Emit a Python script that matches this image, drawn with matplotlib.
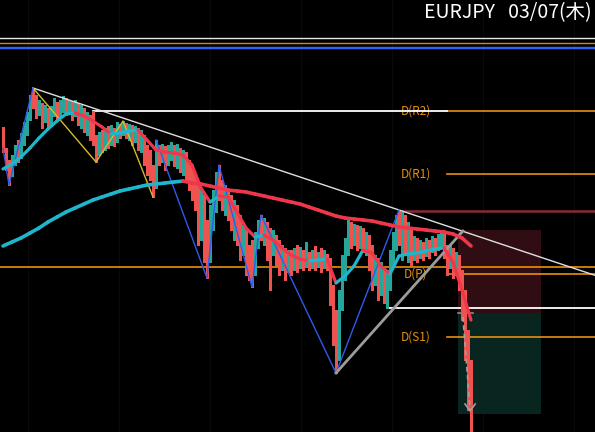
import numpy as np
import matplotlib
matplotlib.use("Agg")
import matplotlib.pyplot as plt
from matplotlib.collections import LineCollection
from matplotlib.patches import Rectangle

# ---------------- data ----------------
opens = [162.70,162.50,162.37,162.27,162.38,162.57,162.45,162.58,162.68,162.83,
         163.02,163.02,162.87,162.94,162.81,162.90,162.77,162.86,162.96,162.84,
         162.90,163.00,162.88,162.97,162.86,162.94,162.76,162.90,162.69,162.82,
         162.78,162.63,162.48,162.67,162.53,162.71,162.57,162.70,162.61,162.75,
         162.67,162.75,162.63,162.73,162.61,162.70,162.52,162.63,162.53,162.47,
         162.33,162.15,162.53,162.40,162.52,162.38,162.42,162.53,162.36,162.50,
         162.30,162.46,162.38,162.32,162.23,162.12,161.65,162.02,161.77,161.45,
         161.74,161.92,162.30,162.17,161.88,162.08,162.03,161.65,161.93,161.82,
         161.48,161.67,161.53,161.57,161.30,161.55,161.82,161.58,161.76,161.70,
         161.48,161.63,161.58,161.34,161.50,161.31,161.48,161.32,161.53,161.34,
         161.49,161.36,161.47,161.34,161.52,161.36,161.50,161.34,161.45,161.40,
         161.12,160.88,160.45,160.95,161.24,161.48,161.76,161.57,161.73,161.54,
         161.70,161.48,161.63,161.53,161.18,161.40,161.08,161.30,160.97,161.14,
         161.38,161.54,161.87,161.45,161.83,161.42,161.70,161.43,161.60,161.44,
         161.57,161.46,161.59,161.49,161.61,161.51,161.54,161.66,161.54,161.35,
         161.50,161.28,161.43,161.28,161.08,160.67,160.37]
closes = [162.50,162.35,162.28,162.40,162.50,162.45,162.62,162.70,162.82,163.00,
          162.95,162.88,162.95,162.82,162.90,162.78,162.88,162.96,162.85,162.92,
          162.98,162.90,162.96,162.88,162.94,162.82,162.90,162.76,162.82,162.70,
          162.62,162.50,162.60,162.55,162.65,162.60,162.68,162.62,162.72,162.70,
          162.75,162.68,162.72,162.65,162.70,162.60,162.64,162.50,162.40,162.30,
          162.15,162.48,162.42,162.50,162.40,162.48,162.52,162.42,162.50,162.38,
          162.45,162.32,162.25,162.15,162.10,161.85,162.00,161.65,161.50,161.85,
          162.00,162.20,162.10,162.00,162.05,161.95,161.85,161.90,161.75,161.60,
          161.65,161.45,161.35,161.30,161.60,161.72,161.68,161.75,161.62,161.55,
          161.62,161.50,161.42,161.50,161.38,161.45,161.35,161.42,161.38,161.45,
          161.38,161.44,161.36,161.42,161.38,161.44,161.36,161.42,161.38,161.10,
          160.80,160.60,161.00,161.30,161.55,161.75,161.62,161.70,161.60,161.68,
          161.58,161.62,161.45,161.30,161.38,161.20,161.30,161.10,161.20,161.45,
          161.60,161.80,161.70,161.82,161.60,161.70,161.52,161.58,161.48,161.55,
          161.50,161.56,161.50,161.58,161.54,161.62,161.65,161.52,161.45,161.50,
          161.38,161.42,161.25,161.00,160.60,160.20,159.80]
highs = [162.73,162.52,162.40,162.45,162.55,162.60,162.67,162.78,162.88,163.05,
         163.12,163.05,163.00,162.97,162.95,162.92,162.94,163.02,162.98,163.00,
         163.04,163.02,163.00,162.99,163.00,162.97,162.95,162.92,162.88,162.85,
         162.89,162.65,162.68,162.70,162.72,162.74,162.75,162.72,162.78,162.76,
         162.79,162.77,162.76,162.75,162.74,162.72,162.70,162.65,162.55,162.50,
         162.35,162.60,162.55,162.56,162.54,162.55,162.58,162.55,162.56,162.52,
         162.50,162.48,162.40,162.35,162.25,162.15,162.10,162.05,161.80,161.95,
         162.10,162.28,162.35,162.20,162.15,162.10,162.05,162.00,161.95,161.85,
         161.75,161.70,161.55,161.60,161.68,161.80,161.85,161.82,161.78,161.72,
         161.70,161.65,161.60,161.55,161.52,161.50,161.50,161.52,161.55,161.53,
         161.50,161.58,161.48,161.50,161.54,161.48,161.52,161.50,161.46,161.42,
         161.15,160.90,161.10,161.45,161.62,161.80,161.78,161.76,161.75,161.74,
         161.72,161.68,161.65,161.55,161.45,161.42,161.38,161.32,161.30,161.50,
         161.68,161.85,161.90,161.88,161.85,161.78,161.72,161.64,161.62,161.60,
         161.58,161.62,161.60,161.64,161.62,161.66,161.68,161.68,161.55,161.55,
         161.52,161.48,161.45,161.30,161.10,160.70,160.40]
lows = [162.48,162.30,162.15,162.24,162.35,162.38,162.42,162.55,162.65,162.80,
        162.92,162.82,162.85,162.72,162.78,162.72,162.74,162.84,162.80,162.82,
        162.88,162.85,162.86,162.80,162.84,162.75,162.72,162.68,162.65,162.60,
        162.55,162.38,162.45,162.48,162.50,162.52,162.55,162.54,162.58,162.62,
        162.65,162.62,162.60,162.55,162.58,162.50,162.48,162.35,162.25,162.20,
        162.03,162.12,162.35,162.38,162.30,162.35,162.40,162.34,162.32,162.28,
        162.25,162.20,162.10,162.00,161.90,161.55,161.60,161.38,161.22,161.38,
        161.70,161.88,162.00,161.90,161.85,161.80,161.70,161.60,161.55,161.40,
        161.45,161.25,161.20,161.13,161.25,161.52,161.60,161.55,161.40,161.10,
        161.45,161.35,161.25,161.30,161.20,161.28,161.25,161.30,161.28,161.32,
        161.30,161.34,161.30,161.32,161.30,161.34,161.28,161.32,161.30,160.95,
        160.55,160.27,160.40,160.90,161.20,161.45,161.52,161.55,161.50,161.52,
        161.48,161.45,161.30,161.10,161.15,161.00,161.05,160.97,160.92,161.10,
        161.35,161.50,161.55,161.40,161.45,161.38,161.35,161.40,161.38,161.42,
        161.40,161.44,161.42,161.48,161.45,161.50,161.52,161.42,161.25,161.32,
        161.22,161.25,161.10,160.80,160.40,159.90,159.60]

# moving averages sampled every 3rd candle
ma_idx = list(range(0, 157, 3))
ma_fast = [162.31,162.36,162.43,162.52,162.62,162.71,162.79,162.86,162.87,162.84,
           162.79,162.73,162.66,162.67,162.69,162.70,162.60,162.50,162.48,162.47,
           162.45,162.35,162.12,161.98,162.04,162.03,161.88,161.72,161.63,161.65,
           161.60,161.52,161.45,161.41,161.39,161.40,161.41,161.17,161.24,161.34,
           161.50,161.47,161.34,161.26,161.44,161.46,161.47,161.49,161.51,161.52,
           161.38,161.10,160.80]
ma_slow = [161.54,161.58,161.62,161.67,161.72,161.78,161.83,161.88,161.92,161.96,
           162.00,162.03,162.06,162.09,162.11,162.13,162.15,162.16,162.17,162.18,
           162.19,162.17,162.16,162.14,162.12,162.10,162.09,162.08,162.06,162.04,
           162.02,162.00,161.98,161.96,161.93,161.90,161.87,161.84,161.82,161.81,
           161.80,161.79,161.77,161.75,161.73,161.72,161.71,161.70,161.69,161.68,
           161.66,161.62,161.54]

# zigzags / drawings
yellow_idx = [10, 31, 40, 50]
yellow_px = [163.12, 162.38, 162.79, 162.03]
blue1_idx = [0, 2, 10]
blue1_px = [162.52, 162.15, 163.12]
blue2_idx = [51, 68, 72, 83, 86, 111, 132]
blue2_px = [162.60, 161.22, 162.35, 161.13, 161.85, 160.27, 161.90]
trend_idx = [10, 132]
trend_px = [163.12, 161.90]
wedge_idx = [111, 153.3]
wedge_px = [160.27, 161.69]

top_levels = [163.62, 163.57, 163.535, 163.517]
top_colors = ['#E6E6E6', '#D8840E', '#2F62F5', '#2F62F5']
pivot_names = ['D(R2)', 'D(R1)', 'D(P)', 'D(S1)']
pivot_levels = [162.89, 162.26, 161.26, 160.63]
orange_full_level = 161.335
white_r_level = 162.89
white_r_start = 30
white_s_level = 160.92
white_s_start = 128
red_level = 161.89
red_start = 132
box_idx = [151.67, 179.33]
box_stop = 161.70
box_entry = 160.87
box_target = 159.86

title = "EURJPY   03/07(木)"

# ---------------- plot ----------------
W, H = 595, 432
fig = plt.figure(figsize=(W/100, H/100), dpi=100, facecolor='black')
ax = fig.add_axes([0, 0, 1, 1])
ax.set_facecolor('black')
xmin, xmax = -1, (W - 3) / 3
ax.set_xlim(xmin, xmax)
ax.set_ylim(159.68, 164.00)
ax.axis('off')

n = len(closes)
x = np.arange(n)
opens = np.array(opens)
closes = np.array(closes)
highs = np.maximum(np.array(highs), np.maximum(opens, closes))
lows = np.minimum(np.array(lows), np.minimum(opens, closes))

# faint grid
for gx in np.arange(28, W, 91):
    ax.axvline((gx - 3) / 3, color='#0a0a0a', lw=1, zorder=0)

# top lines
for lv, c in zip(top_levels, top_colors):
    ax.axhline(lv, color=c, lw=1.0, zorder=1)

# position box
ax.add_patch(Rectangle((box_idx[0], box_entry), box_idx[1]-box_idx[0], box_stop-box_entry,
                       facecolor='#2f0d12', edgecolor='none', zorder=1))
ax.add_patch(Rectangle((box_idx[0], box_target), box_idx[1]-box_idx[0], box_entry-box_target,
                       facecolor='#082520', edgecolor='none', zorder=1))
ax.plot([box_idx[0], box_idx[0] + 5], [box_entry, box_entry], color='#8a8a8a', lw=1.2, zorder=2)

# horizontal levels
orange = '#E8900F'
ax.axhline(orange_full_level, color=orange, lw=1.2, zorder=2)
lbl_start = 148
for name, lv in zip(pivot_names, pivot_levels):
    ax.plot([lbl_start, xmax], [lv, lv], color=orange, lw=1.2, zorder=2)
    ax.text(137.6, lv, name, color=orange, fontsize=8.5, ha='center', va='center',
            family=['Noto Sans CJK JP', 'DejaVu Sans'], zorder=2)
ax.plot([white_r_start, lbl_start], [white_r_level, white_r_level], color='white', lw=1.3, zorder=2)
ax.plot([white_s_start, xmax], [white_s_level, white_s_level], color='white', lw=1.3, zorder=2)
ax.plot([red_start, xmax], [red_level, red_level], color='#8a2a34', lw=1.8, zorder=2)

# candles
up = closes >= opens
cols = np.where(up, '#26A69A', '#EF5350')
ax.vlines(x, lows, highs, colors=cols, lw=0.75, zorder=3, antialiased=False)
bh = closes - opens
bh = np.where(np.abs(bh) < 0.02, np.where(bh >= 0, 0.02, -0.02), bh)
ax.bar(x, bh, bottom=opens, width=0.5, color=cols, linewidth=0, zorder=3, antialiased=False)

# trend lines & zigzags
slope = (trend_px[1] - trend_px[0]) / (trend_idx[1] - trend_idx[0])
ax.plot([trend_idx[0], xmax], [trend_px[0], trend_px[0] + slope*(xmax - trend_idx[0])],
        color='#e0e0e0', lw=1.0, zorder=4)
ax.plot(yellow_idx, yellow_px, color='#D6BC2A', lw=1.0, zorder=4)
ax.plot(blue1_idx, blue1_px, color='#2F5BEA', lw=1.0, zorder=4)
ax.plot(blue2_idx, blue2_px, color='#2F5BEA', lw=1.0, zorder=4)
ax.plot(wedge_idx, wedge_px, color='#9c9c9c', lw=2.0, zorder=4)

# moving averages coloured by direction
def ma_line(vals, lw):
    pts = np.column_stack([ma_idx, vals])
    segs = np.stack([pts[:-1], pts[1:]], axis=1)
    v = np.array(vals)
    c = np.where(v[1:] >= v[:-1], '#1FB6CC', '#F0364A')
    lc = LineCollection(segs, colors=c, linewidths=lw, capstyle='round', zorder=5)
    ax.add_collection(lc)

ma_line(ma_slow, 2.6)
ma_line(ma_fast, 2.3)

# dashed arrow in box
ax.plot([153.3, 154.6, 155.7], [160.83, 160.33, 159.90], color='#a0a0a0', lw=1.2,
        ls=(0, (3, 2)), zorder=6)
ax.plot([154.0, 155.7, 157.4], [159.96, 159.89, 159.96], color='#a0a0a0', lw=1.2, zorder=6)

fig.text(592/W, 1 - 13/H, title, color='white', fontsize=14, ha='right', va='center',
         family=['Noto Sans CJK JP', 'DejaVu Sans'])

fig.savefig('out.png', dpi=100, facecolor='black')
